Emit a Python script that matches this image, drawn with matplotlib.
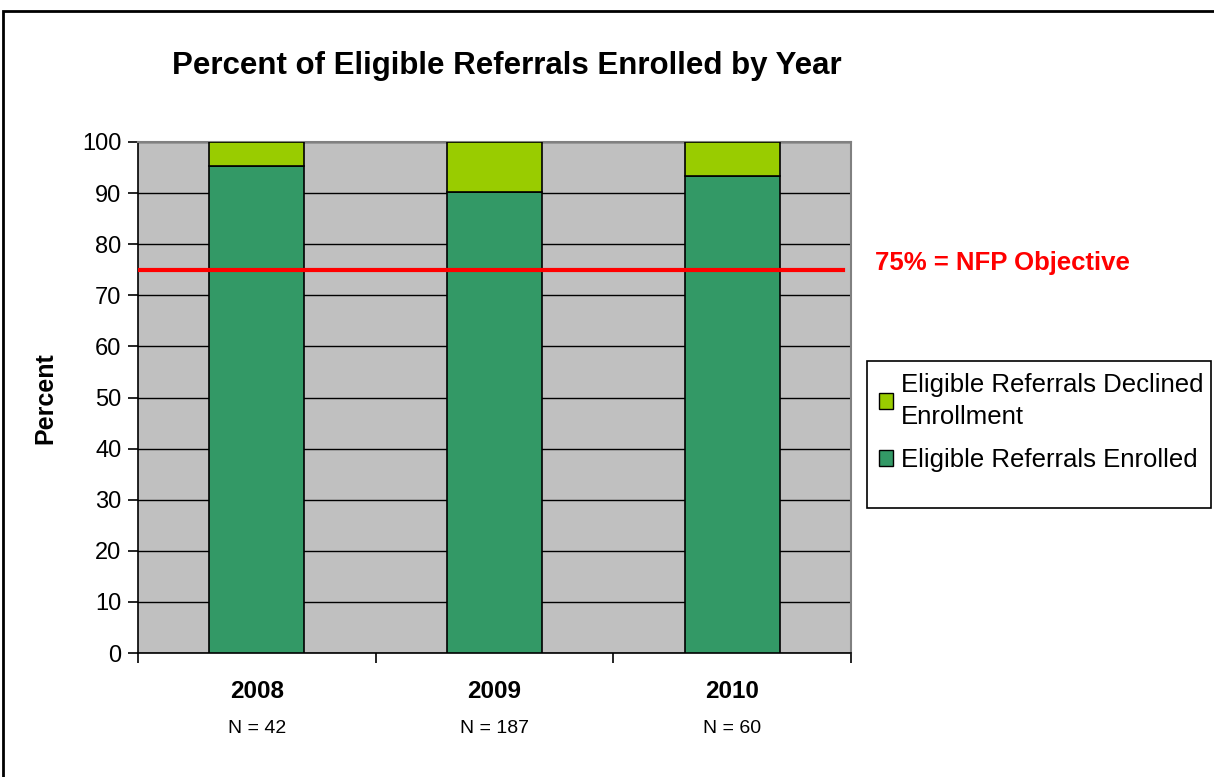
import matplotlib
matplotlib.use("Agg")
import matplotlib.pyplot as plt
from matplotlib.patches import Rectangle, Patch
import numpy as np

# ── data ──────────────────────────────────────────────────────────────────────
years = ["2008", "2009", "2010"]
n_labels = ["N = 42", "N = 187", "N = 60"]
enrolled = [95.3, 90.3, 93.4]
declined = [4.7, 9.7, 6.6]
objective = 75

ENROLLED_C = "#339966"
DECLINED_C = "#99CC00"

plt.rcParams["font.family"] = ["Liberation Sans", "DejaVu Sans"]

fig = plt.figure(figsize=(12.14, 7.77), dpi=100)
ax = fig.add_axes([138 / 1214, 1 - 653 / 777, 713 / 1214, 511 / 777])

x = np.arange(len(years))
ax.set_facecolor("#C0C0C0")
ax.set_axisbelow(True)
ax.yaxis.grid(True, color="black", linewidth=1.0)

ax.bar(x, enrolled, width=0.4, color=ENROLLED_C, edgecolor="black", linewidth=1.2, zorder=3)
ax.bar(x, declined, width=0.4, bottom=enrolled, color=DECLINED_C, edgecolor="black",
       linewidth=1.2, zorder=3)
ax.axhline(objective, xmin=0, xmax=0.989, color="#FF0000", linewidth=3, zorder=4)

ax.set_xlim(-0.5, 2.5)
ax.set_ylim(0, 100)
ax.set_yticks(range(0, 101, 10))
ax.tick_params(axis="y", labelsize=17, length=7, width=1.2, pad=5)

# category boundaries get the tick marks, labels sit in between
ax.set_xticks([-0.5, 0.5, 1.5, 2.5])
ax.set_xticklabels([])
ax.tick_params(axis="x", which="major", length=7, width=1.2)
ax.set_xticks(x, minor=True)
ax.set_xticklabels([])
ax.tick_params(axis="x", which="minor", length=0)

for xi, yr, nl in zip(x, years, n_labels):
    ax.text(xi, -0.075, yr, transform=ax.get_xaxis_transform(), ha="center", va="center",
            fontsize=17.5, fontweight="bold")
    ax.text(xi, -0.148, nl, transform=ax.get_xaxis_transform(), ha="center", va="center",
            fontsize=14)

for s in ("left", "bottom"):
    ax.spines[s].set_color("black")
    ax.spines[s].set_linewidth(1.2)
for s in ("top", "right"):
    ax.spines[s].set_color("#808080")
    ax.spines[s].set_linewidth(1.5)

fig.text(45 / 1214, 1 - 398 / 777, "Percent", rotation=90, ha="center", va="center",
         fontsize=18, fontweight="bold")

fig.text(507 / 1214, 1 - 66 / 777, "Percent of Eligible Referrals Enrolled by Year",
         ha="center", va="center", fontsize=22.5, fontweight="bold")
fig.text(875 / 1214, 1 - 263 / 777, "75% = NFP Objective", ha="left", va="center",
         fontsize=18.5, fontweight="bold", color="#FF0000")

# legend box drawn by hand, entries placed inside
fig.patches.append(Rectangle((867 / 1214, 1 - 508 / 777), 344 / 1214, 147 / 777,
                             transform=fig.transFigure, facecolor="white",
                             edgecolor="black", linewidth=1.2))
handles = [Patch(facecolor=DECLINED_C, edgecolor="black", linewidth=1.0),
           Patch(facecolor=ENROLLED_C, edgecolor="black", linewidth=1.0)]
leg = fig.legend(handles, ["Eligible Referrals Declined\nEnrollment", "Eligible Referrals Enrolled"],
                 loc="upper left", bbox_to_anchor=(879 / 1214, 1 - 373 / 777), frameon=False,
                 fontsize=18.5, handlelength=0.55, handleheight=0.55, handletextpad=0.3,
                 labelspacing=0.75, borderaxespad=0, borderpad=0.0)
for t in leg.get_texts():
    t.set_linespacing(1.4)

# outer chart frame
fig.patches.append(Rectangle((3 / 1214, -0.05), 1.1, 1.05 - 11 / 777,
                             transform=fig.transFigure, facecolor="none",
                             edgecolor="black", linewidth=2))

fig.savefig("out.png", dpi=100)
